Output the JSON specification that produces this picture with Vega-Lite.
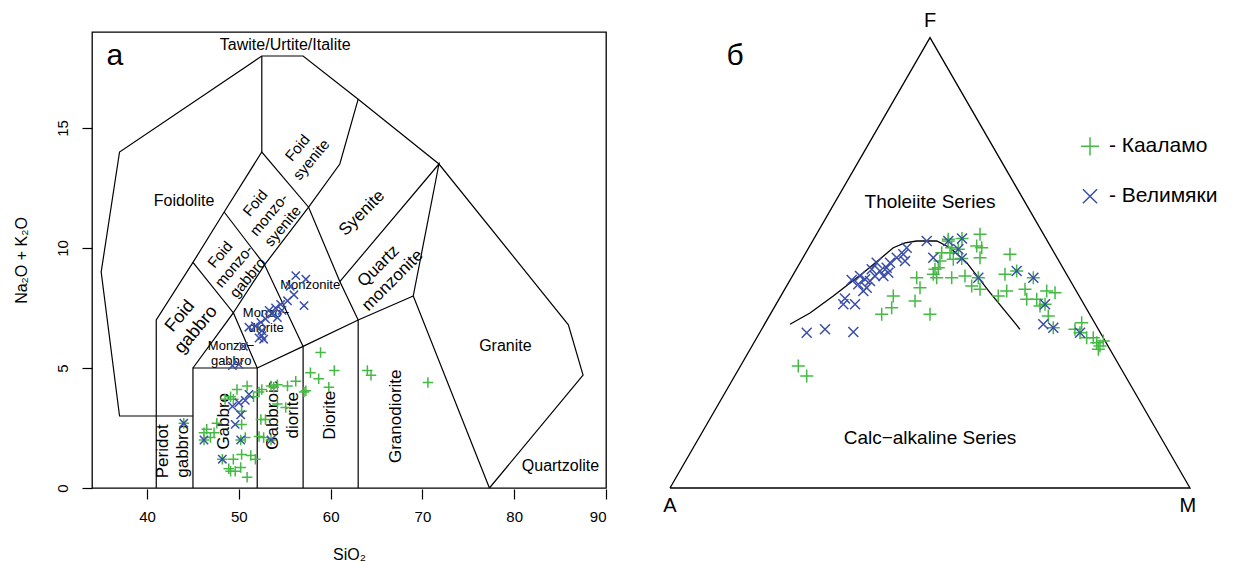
{
"$schema": "https://vega.github.io/schema/vega-lite/v6.json",
"padding": {"left": 12, "top": 11, "right": 0, "bottom": 0},
"spacing": 38,
"bounds": "flush",
"config": {"font": "Liberation Sans", "view": {"stroke": null}, "text": {"font": "Liberation Sans", "color": "#000"}},
"datasets": {
"tas_lines": [
{"seg":"s1","i":1,"SiO2":41,"Na2OK2O":3},{"seg":"s1","i":2,"SiO2":37,"Na2OK2O":3},{"seg":"s1","i":3,"SiO2":35,"Na2OK2O":9},{"seg":"s1","i":4,"SiO2":37,"Na2OK2O":14},{"seg":"s1","i":5,"SiO2":52.5,"Na2OK2O":18},{"seg":"s1","i":6,"SiO2":57,"Na2OK2O":18},{"seg":"s1","i":7,"SiO2":63,"Na2OK2O":16.2},{"seg":"s1","i":8,"SiO2":71.8,"Na2OK2O":13.5},{"seg":"s1","i":9,"SiO2":85.9,"Na2OK2O":6.8},{"seg":"s1","i":10,"SiO2":87.5,"Na2OK2O":4.7},{"seg":"s1","i":11,"SiO2":77.3,"Na2OK2O":0},
{"seg":"s2","i":1,"SiO2":41,"Na2OK2O":0},{"seg":"s2","i":2,"SiO2":41,"Na2OK2O":7},{"seg":"s2","i":3,"SiO2":45,"Na2OK2O":9.4},{"seg":"s2","i":4,"SiO2":48.4,"Na2OK2O":11.5},{"seg":"s2","i":5,"SiO2":52.5,"Na2OK2O":14},{"seg":"s2","i":6,"SiO2":57.6,"Na2OK2O":11.7},{"seg":"s2","i":7,"SiO2":61,"Na2OK2O":8.6},{"seg":"s2","i":8,"SiO2":63,"Na2OK2O":7},
{"seg":"s3","i":1,"SiO2":52.5,"Na2OK2O":18},{"seg":"s3","i":2,"SiO2":52.5,"Na2OK2O":14},
{"seg":"s4","i":1,"SiO2":57.6,"Na2OK2O":11.7},{"seg":"s4","i":2,"SiO2":61,"Na2OK2O":13.5},{"seg":"s4","i":3,"SiO2":63,"Na2OK2O":16.2},
{"seg":"s5","i":1,"SiO2":61,"Na2OK2O":8.6},{"seg":"s5","i":2,"SiO2":71.8,"Na2OK2O":13.5},{"seg":"s5","i":3,"SiO2":69,"Na2OK2O":8},{"seg":"s5","i":4,"SiO2":77.3,"Na2OK2O":0},
{"seg":"s6","i":1,"SiO2":41,"Na2OK2O":3},{"seg":"s6","i":2,"SiO2":45,"Na2OK2O":3},
{"seg":"s7","i":1,"SiO2":45,"Na2OK2O":0},{"seg":"s7","i":2,"SiO2":45,"Na2OK2O":5},{"seg":"s7","i":3,"SiO2":52,"Na2OK2O":5},{"seg":"s7","i":4,"SiO2":52,"Na2OK2O":0},
{"seg":"s8","i":1,"SiO2":45,"Na2OK2O":5},{"seg":"s8","i":2,"SiO2":49.4,"Na2OK2O":7.3},{"seg":"s8","i":3,"SiO2":52,"Na2OK2O":5},
{"seg":"s9","i":1,"SiO2":45,"Na2OK2O":9.4},{"seg":"s9","i":2,"SiO2":49.4,"Na2OK2O":7.3},{"seg":"s9","i":3,"SiO2":52.8,"Na2OK2O":9.3},{"seg":"s9","i":4,"SiO2":57.6,"Na2OK2O":11.7},
{"seg":"s10","i":1,"SiO2":48.4,"Na2OK2O":11.5},{"seg":"s10","i":2,"SiO2":52.8,"Na2OK2O":9.3},{"seg":"s10","i":3,"SiO2":57,"Na2OK2O":5.9},
{"seg":"s11","i":1,"SiO2":52,"Na2OK2O":5},{"seg":"s11","i":2,"SiO2":57,"Na2OK2O":5.9},{"seg":"s11","i":3,"SiO2":63,"Na2OK2O":7},{"seg":"s11","i":4,"SiO2":69,"Na2OK2O":8},
{"seg":"s12","i":1,"SiO2":57,"Na2OK2O":0},{"seg":"s12","i":2,"SiO2":57,"Na2OK2O":5.9},
{"seg":"s13","i":1,"SiO2":63,"Na2OK2O":0},{"seg":"s13","i":2,"SiO2":63,"Na2OK2O":7}
],
"tas_points": [
{"series":"Кааламо","SiO2":44.0,"Na2OK2O":2.7},{"series":"Кааламо","SiO2":46.2,"Na2OK2O":2.0},{"series":"Кааламо","SiO2":48.2,"Na2OK2O":1.2},{"series":"Кааламо","SiO2":50.2,"Na2OK2O":2.0},{"series":"Кааламо","SiO2":53.5,"Na2OK2O":2.0},
{"series":"Кааламо","SiO2":50.9,"Na2OK2O":4.25},{"series":"Кааламо","SiO2":49.8,"Na2OK2O":4.1},{"series":"Кааламо","SiO2":49.1,"Na2OK2O":3.8},{"series":"Кааламо","SiO2":48.5,"Na2OK2O":3.7},{"series":"Кааламо","SiO2":49.4,"Na2OK2O":3.7},{"series":"Кааламо","SiO2":51.6,"Na2OK2O":3.8},{"series":"Кааламо","SiO2":52.2,"Na2OK2O":4.0},{"series":"Кааламо","SiO2":52.5,"Na2OK2O":4.1},{"series":"Кааламо","SiO2":53.5,"Na2OK2O":4.25},{"series":"Кааламо","SiO2":54.2,"Na2OK2O":4.3},{"series":"Кааламо","SiO2":55.3,"Na2OK2O":4.25},{"series":"Кааламо","SiO2":56.2,"Na2OK2O":4.45},{"series":"Кааламо","SiO2":57.1,"Na2OK2O":4.0},{"series":"Кааламо","SiO2":53.8,"Na2OK2O":4.2},{"series":"Кааламо","SiO2":54.2,"Na2OK2O":3.5},{"series":"Кааламо","SiO2":55.1,"Na2OK2O":3.35},{"series":"Кааламо","SiO2":52.4,"Na2OK2O":2.85},{"series":"Кааламо","SiO2":52.9,"Na2OK2O":2.85},{"series":"Кааламо","SiO2":50.3,"Na2OK2O":3.2},{"series":"Кааламо","SiO2":50.3,"Na2OK2O":2.65},{"series":"Кааламо","SiO2":47.6,"Na2OK2O":2.7},{"series":"Кааламо","SiO2":46.5,"Na2OK2O":2.45},{"series":"Кааламо","SiO2":46.2,"Na2OK2O":2.3},{"series":"Кааламо","SiO2":47.3,"Na2OK2O":2.3},{"series":"Кааламо","SiO2":46.9,"Na2OK2O":2.1},{"series":"Кааламо","SiO2":50.7,"Na2OK2O":2.1},{"series":"Кааламо","SiO2":52.2,"Na2OK2O":2.15},{"series":"Кааламо","SiO2":52.7,"Na2OK2O":2.1},{"series":"Кааламо","SiO2":50.3,"Na2OK2O":1.4},{"series":"Кааламо","SiO2":51.3,"Na2OK2O":1.35},{"series":"Кааламо","SiO2":49.4,"Na2OK2O":1.2},{"series":"Кааламо","SiO2":51.8,"Na2OK2O":1.2},{"series":"Кааламо","SiO2":48.9,"Na2OK2O":0.8},{"series":"Кааламо","SiO2":49.6,"Na2OK2O":0.7},{"series":"Кааламо","SiO2":50.2,"Na2OK2O":0.85},{"series":"Кааламо","SiO2":49.1,"Na2OK2O":0.7},{"series":"Кааламо","SiO2":50.9,"Na2OK2O":0.45},{"series":"Кааламо","SiO2":58.9,"Na2OK2O":5.65},{"series":"Кааламо","SiO2":60.4,"Na2OK2O":4.9},{"series":"Кааламо","SiO2":57.8,"Na2OK2O":4.8},{"series":"Кааламо","SiO2":58.7,"Na2OK2O":4.55},{"series":"Кааламо","SiO2":57.3,"Na2OK2O":4.05},{"series":"Кааламо","SiO2":59.8,"Na2OK2O":4.2},{"series":"Кааламо","SiO2":64.0,"Na2OK2O":4.9},{"series":"Кааламо","SiO2":64.4,"Na2OK2O":4.7},{"series":"Кааламо","SiO2":70.6,"Na2OK2O":4.4},
{"series":"Велимяки","SiO2":44.0,"Na2OK2O":2.7},{"series":"Велимяки","SiO2":46.2,"Na2OK2O":2.0},{"series":"Велимяки","SiO2":48.2,"Na2OK2O":1.2},{"series":"Велимяки","SiO2":50.2,"Na2OK2O":2.0},{"series":"Велимяки","SiO2":53.5,"Na2OK2O":2.0},{"series":"Велимяки","SiO2":49.6,"Na2OK2O":2.65},{"series":"Велимяки","SiO2":50.2,"Na2OK2O":3.05},{"series":"Велимяки","SiO2":49.3,"Na2OK2O":3.4},{"series":"Велимяки","SiO2":50.0,"Na2OK2O":3.55},{"series":"Велимяки","SiO2":50.7,"Na2OK2O":3.65},{"series":"Велимяки","SiO2":51.1,"Na2OK2O":3.9},{"series":"Велимяки","SiO2":56.2,"Na2OK2O":8.85},{"series":"Велимяки","SiO2":57.3,"Na2OK2O":8.7},{"series":"Велимяки","SiO2":55.6,"Na2OK2O":8.4},{"series":"Велимяки","SiO2":56.0,"Na2OK2O":8.05},{"series":"Велимяки","SiO2":55.3,"Na2OK2O":7.8},{"series":"Велимяки","SiO2":57.1,"Na2OK2O":7.6},{"series":"Велимяки","SiO2":54.55,"Na2OK2O":7.65},{"series":"Велимяки","SiO2":54.0,"Na2OK2O":7.5},{"series":"Велимяки","SiO2":54.7,"Na2OK2O":7.4},{"series":"Велимяки","SiO2":53.6,"Na2OK2O":7.25},{"series":"Велимяки","SiO2":53.3,"Na2OK2O":7.4},{"series":"Велимяки","SiO2":54.2,"Na2OK2O":7.1},{"series":"Велимяки","SiO2":52.9,"Na2OK2O":7.05},{"series":"Велимяки","SiO2":52.4,"Na2OK2O":6.9},{"series":"Велимяки","SiO2":51.8,"Na2OK2O":6.75},{"series":"Велимяки","SiO2":51.1,"Na2OK2O":6.7},{"series":"Велимяки","SiO2":52.5,"Na2OK2O":6.55},{"series":"Велимяки","SiO2":52.5,"Na2OK2O":6.35},{"series":"Велимяки","SiO2":52.7,"Na2OK2O":6.2},{"series":"Велимяки","SiO2":52.2,"Na2OK2O":6.25},{"series":"Велимяки","SiO2":50.5,"Na2OK2O":5.9},{"series":"Велимяки","SiO2":50.0,"Na2OK2O":5.15},{"series":"Велимяки","SiO2":49.3,"Na2OK2O":5.1}
],
"tas_labels_h": [
{"label":"Tawite/Urtite/Italite","SiO2":55.05,"Na2OK2O":18.45},
{"label":"Foidolite","SiO2":44.03,"Na2OK2O":11.94},
{"label":"Granite","SiO2":79.04,"Na2OK2O":5.9},
{"label":"Quartzolite","SiO2":85.04,"Na2OK2O":0.9}
],
"tas_labels_small": [
{"label":"Monzonite","SiO2":57.77,"Na2OK2O":8.47},
{"label":"Monzo−\ndiorite","SiO2":52.97,"Na2OK2O":7.29},
{"label":"Monzo−\ngabbro","SiO2":49.16,"Na2OK2O":5.9}
],
"tas_labels_v": [
{"label":"Peridot\ngabbro","SiO2":41.78,"Na2OK2O":1.53},
{"label":"Gabbro","SiO2":48.4,"Na2OK2O":2.78},
{"label":"Gabbroic\ndiorite","SiO2":53.74,"Na2OK2O":3.03},
{"label":"Diorite","SiO2":59.95,"Na2OK2O":3.03},
{"label":"Granodiorite","SiO2":67.15,"Na2OK2O":2.99}
],
"tas_labels_d50": [
{"label":"Foid\nsyenite","SiO2":56.39,"Na2OK2O":14.17},
{"label":"Foid\nmonzo-\nsyenite","SiO2":51.78,"Na2OK2O":11.875},
{"label":"Foid\nmonzo-\ngabbro","SiO2":47.96,"Na2OK2O":9.725}
],
"tas_labels_fg": [
{"label":"Foid\ngabbro","SiO2":43.6,"Na2OK2O":7.15}
],
"tas_labels_d45": [
{"label":"Syenite","SiO2":63.41,"Na2OK2O":11.46},
{"label":"Quartz\nmonzonite","SiO2":65.22,"Na2OK2O":9.24}
],
"tas_letter": [{"label":"а","SiO2":36.5,"Na2OK2O":17.99}],
"afm_lines": [
{"seg":"triangle","i":1,"tx":0,"ty":0},{"seg":"triangle","i":2,"tx":100,"ty":0},{"seg":"triangle","i":3,"tx":50,"ty":86.6},{"seg":"triangle","i":4,"tx":0,"ty":0},
{"seg":"boundary","i":1,"tx":23.08,"ty":31.48},{"seg":"boundary","i":2,"tx":26.92,"ty":33.65},{"seg":"boundary","i":3,"tx":31.4,"ty":36.92},{"seg":"boundary","i":4,"tx":37.17,"ty":41.4},{"seg":"boundary","i":5,"tx":40.38,"ty":44.04},{"seg":"boundary","i":6,"tx":42.94,"ty":46.21},{"seg":"boundary","i":7,"tx":45.19,"ty":47.12},{"seg":"boundary","i":8,"tx":47.44,"ty":47.5},{"seg":"boundary","i":9,"tx":51.29,"ty":47.5},{"seg":"boundary","i":10,"tx":53.85,"ty":46.21},{"seg":"boundary","i":11,"tx":57.06,"ty":43.33},{"seg":"boundary","i":12,"tx":61.54,"ty":37.56},{"seg":"boundary","i":13,"tx":67.31,"ty":30.52}
],
"afm_points": [
{"series":"Кааламо","tx":24.67,"ty":23.46},{"series":"Кааламо","tx":26.29,"ty":21.54},{"series":"Кааламо","tx":47.44,"ty":40.44},{"series":"Кааламо","tx":48.08,"ty":38.52},{"series":"Кааламо","tx":42.94,"ty":36.92},{"series":"Кааламо","tx":42.63,"ty":34.67},{"series":"Кааламо","tx":40.71,"ty":33.4},{"series":"Кааламо","tx":47.12,"ty":35.96},{"series":"Кааламо","tx":50.0,"ty":33.4},{"series":"Кааламо","tx":50.96,"ty":42.06},{"series":"Кааламо","tx":51.29,"ty":40.44},{"series":"Кааламо","tx":51.92,"ty":43.65},{"series":"Кааламо","tx":52.25,"ty":45.25},{"series":"Кааламо","tx":54.17,"ty":40.44},{"series":"Кааламо","tx":53.85,"ty":45.25},{"series":"Кааламо","tx":54.48,"ty":43.98},{"series":"Кааламо","tx":53.52,"ty":47.83},{"series":"Кааламо","tx":59.62,"ty":48.79},{"series":"Кааламо","tx":59.62,"ty":44.29},{"series":"Кааламо","tx":58.98,"ty":46.54},{"series":"Кааламо","tx":51.6,"ty":42.37},{"series":"Кааламо","tx":50.63,"ty":41.1},{"series":"Кааламо","tx":56.73,"ty":40.77},{"series":"Кааламо","tx":58.02,"ty":38.85},{"series":"Кааламо","tx":59.62,"ty":38.21},{"series":"Кааламо","tx":59.94,"ty":46.21},{"series":"Кааламо","tx":54.17,"ty":46.21},{"series":"Кааламо","tx":65.38,"ty":44.94},{"series":"Кааламо","tx":64.42,"ty":41.1},{"series":"Кааламо","tx":64.75,"ty":37.88},{"series":"Кааламо","tx":63.13,"ty":36.92},{"series":"Кааламо","tx":68.27,"ty":38.21},{"series":"Кааламо","tx":68.6,"ty":36.29},{"series":"Кааламо","tx":70.52,"ty":36.29},{"series":"Кааламо","tx":72.44,"ty":37.88},{"series":"Кааламо","tx":74.04,"ty":37.56},{"series":"Кааламо","tx":71.15,"ty":35.0},{"series":"Кааламо","tx":72.75,"ty":33.08},{"series":"Кааламо","tx":79.17,"ty":31.79},{"series":"Кааламо","tx":77.88,"ty":30.52},{"series":"Кааламо","tx":80.13,"ty":28.9},{"series":"Кааламо","tx":81.4,"ty":28.9},{"series":"Кааламо","tx":82.06,"ty":27.94},{"series":"Кааламо","tx":82.69,"ty":27.31},{"series":"Кааламо","tx":83.33,"ty":28.27},{"series":"Кааламо","tx":82.37,"ty":26.67},{"series":"Кааламо","tx":66.67,"ty":41.73},{"series":"Кааламо","tx":69.87,"ty":40.44},{"series":"Кааламо","tx":72.12,"ty":35.33},{"series":"Кааламо","tx":73.71,"ty":30.83},{"series":"Кааламо","tx":78.85,"ty":29.87},{"series":"Кааламо","tx":59.29,"ty":40.44},{"series":"Кааламо","tx":56.15,"ty":47.98},{"series":"Кааламо","tx":55.44,"ty":45.9},{"series":"Кааламо","tx":56.1,"ty":44.13},{"series":"Кааламо","tx":53.52,"ty":47.5},
{"series":"Велимяки","tx":26.29,"ty":29.87},{"series":"Велимяки","tx":29.81,"ty":30.52},{"series":"Велимяки","tx":35.25,"ty":30.0},{"series":"Велимяки","tx":33.65,"ty":36.44},{"series":"Велимяки","tx":35.58,"ty":35.33},{"series":"Велимяки","tx":33.33,"ty":35.33},{"series":"Велимяки","tx":34.94,"ty":40.0},{"series":"Велимяки","tx":36.54,"ty":40.77},{"series":"Велимяки","tx":37.5,"ty":40.13},{"series":"Велимяки","tx":36.21,"ty":39.17},{"series":"Велимяки","tx":37.83,"ty":38.52},{"series":"Велимяки","tx":37.17,"ty":37.88},{"series":"Велимяки","tx":38.46,"ty":39.81},{"series":"Велимяки","tx":39.42,"ty":40.77},{"series":"Велимяки","tx":39.75,"ty":43.33},{"series":"Велимяки","tx":38.79,"ty":42.06},{"series":"Велимяки","tx":40.38,"ty":41.73},{"series":"Велимяки","tx":41.02,"ty":40.77},{"series":"Велимяки","tx":41.98,"ty":41.4},{"series":"Велимяки","tx":41.67,"ty":42.37},{"series":"Велимяки","tx":42.31,"ty":43.33},{"series":"Велимяки","tx":43.6,"ty":44.29},{"series":"Велимяки","tx":44.87,"ty":44.94},{"series":"Велимяки","tx":45.19,"ty":43.65},{"series":"Велимяки","tx":45.52,"ty":46.21},{"series":"Велимяки","tx":49.37,"ty":47.5},{"series":"Велимяки","tx":50.63,"ty":44.29},{"series":"Велимяки","tx":53.52,"ty":47.5},{"series":"Велимяки","tx":56.15,"ty":47.98},{"series":"Велимяки","tx":55.44,"ty":45.9},{"series":"Велимяки","tx":56.1,"ty":44.13},{"series":"Велимяки","tx":59.29,"ty":40.44},{"series":"Велимяки","tx":66.67,"ty":41.73},{"series":"Велимяки","tx":69.87,"ty":40.44},{"series":"Велимяки","tx":72.12,"ty":35.33},{"series":"Велимяки","tx":71.79,"ty":31.48},{"series":"Велимяки","tx":73.71,"ty":30.83},{"series":"Велимяки","tx":78.85,"ty":29.87}
],
"afm_labels": [
{"label":"Tholeiite Series","tx":50,"ty":55.0},
{"label":"Calc−alkaline Series","tx":50,"ty":9.6}
],
"afm_vertices": [
{"label":"A","tx":0,"ty":-3.5},
{"label":"M","tx":99.6,"ty":-3.5},
{"label":"F","tx":50,"ty":89.75}
],
"afm_letter": [{"label":"б","tx":12.5,"ty":83.0}],
"legend": [
{"series":"Кааламо","label":"- Кааламо","tx":80.77,"ty":65.7,"ltx":84.4},
{"series":"Велимяки","label":"- Велимяки","tx":80.77,"ty":56.1,"ltx":84.4}
]
},
"hconcat": [
{
"width": 514, "height": 456,
"view": {"stroke": "#000", "strokeWidth": 1.3},
"encoding": {
"x": {"field": "SiO2", "type": "quantitative", "scale": {"domain": [34, 90], "nice": false, "zero": false},
 "axis": {"title": "SiO₂", "values": [40, 50, 60, 70, 80, 90], "grid": false, "domain": false, "ticks": true, "tickSize": 10, "tickColor": "#000", "tickWidth": 1.2, "offset": 1, "labelFontSize": 15, "labelColor": "#000", "labelPadding": 10, "labelFont": "Liberation Sans", "titleFont": "Liberation Sans", "titleFontSize": 16, "titleFontWeight": "normal", "titleColor": "#000", "titlePadding": 22}},
"y": {"field": "Na2OK2O", "type": "quantitative", "scale": {"domain": [0, 19], "nice": false, "zero": false},
 "axis": {"title": "Na₂O + K₂O", "values": [0, 5, 10, 15], "grid": false, "domain": false, "ticks": true, "tickSize": 10, "tickColor": "#000", "tickWidth": 1.2, "labelAngle": 270, "labelAlign": "center", "labelBaseline": "bottom", "labelFontSize": 15, "labelColor": "#000", "labelPadding": 12, "labelFont": "Liberation Sans", "titleFont": "Liberation Sans", "titleFontSize": 16, "titleFontWeight": "normal", "titleColor": "#000", "titlePadding": 26}}
},
"layer": [
{"data": {"name": "tas_lines"}, "mark": {"type": "line", "color": "#000", "strokeWidth": 1.2}, "encoding": {"detail": {"field": "seg"}, "order": {"field": "i", "type": "quantitative"}}},
{"data": {"name": "tas_labels_h"}, "mark": {"type": "text", "fontSize": 16, "align": "center", "baseline": "middle"}, "encoding": {"text": {"field": "label"}}},
{"data": {"name": "tas_labels_small"}, "mark": {"type": "text", "fontSize": 13, "lineHeight": 15, "lineBreak": "\n", "align": "center", "baseline": "middle"}, "encoding": {"text": {"field": "label"}}},
{"data": {"name": "tas_labels_v"}, "mark": {"type": "text", "fontSize": 17, "lineHeight": 20, "lineBreak": "\n", "angle": 270, "align": "center", "baseline": "middle"}, "encoding": {"text": {"field": "label"}}},
{"data": {"name": "tas_labels_d50"}, "mark": {"type": "text", "fontSize": 15, "lineHeight": 18, "lineBreak": "\n", "angle": 310, "align": "center", "baseline": "middle"}, "encoding": {"text": {"field": "label"}}},
{"data": {"name": "tas_labels_fg"}, "mark": {"type": "text", "fontSize": 18, "lineHeight": 21, "lineBreak": "\n", "angle": 310, "align": "center", "baseline": "middle"}, "encoding": {"text": {"field": "label"}}},
{"data": {"name": "tas_labels_d45"}, "mark": {"type": "text", "fontSize": 17, "lineHeight": 20, "lineBreak": "\n", "angle": 315, "align": "center", "baseline": "middle"}, "encoding": {"text": {"field": "label"}}},
{"data": {"name": "tas_letter"}, "mark": {"type": "text", "fontSize": 30, "align": "center", "baseline": "middle"}, "encoding": {"text": {"field": "label"}}},
{"data": {"name": "tas_points"}, "transform": [{"filter": "datum.series === 'Кааламо'"}], "mark": {"type": "point", "shape": "M-1,0L1,0M0,-1L0,1", "filled": false, "color": "#44b944", "strokeWidth": 1.5, "size": 110, "opacity": 1}},
{"data": {"name": "tas_points"}, "transform": [{"filter": "datum.series === 'Велимяки'"}], "mark": {"type": "point", "shape": "M-1,-1L1,1M-1,1L1,-1", "filled": false, "color": "#3a4ea8", "strokeWidth": 1.5, "size": 70, "opacity": 1}}
]
},
{
"width": 598, "height": 456,
"encoding": {
"x": {"field": "tx", "type": "quantitative", "scale": {"domain": [-5, 110], "nice": false, "zero": false}, "axis": null},
"y": {"field": "ty", "type": "quantitative", "scale": {"domain": [0, 87.69], "nice": false, "zero": false}, "axis": null}
},
"layer": [
{"data": {"name": "afm_lines"}, "mark": {"type": "line", "color": "#000", "strokeWidth": 1.3}, "encoding": {"detail": {"field": "seg"}, "order": {"field": "i", "type": "quantitative"}}},
{"data": {"name": "afm_labels"}, "mark": {"type": "text", "fontSize": 19, "align": "center", "baseline": "middle"}, "encoding": {"text": {"field": "label"}}},
{"data": {"name": "afm_vertices"}, "mark": {"type": "text", "fontSize": 20, "align": "center", "baseline": "middle"}, "encoding": {"text": {"field": "label"}}},
{"data": {"name": "afm_letter"}, "mark": {"type": "text", "fontSize": 30, "align": "center", "baseline": "middle"}, "encoding": {"text": {"field": "label"}}},
{"data": {"name": "afm_points"}, "transform": [{"filter": "datum.series === 'Кааламо'"}], "mark": {"type": "point", "shape": "M-1,0L1,0M0,-1L0,1", "filled": false, "color": "#44b944", "strokeWidth": 1.5, "size": 170, "opacity": 1}},
{"data": {"name": "afm_points"}, "transform": [{"filter": "datum.series === 'Велимяки'"}], "mark": {"type": "point", "shape": "M-1,-1L1,1M-1,1L1,-1", "filled": false, "color": "#3a4ea8", "strokeWidth": 1.5, "size": 100, "opacity": 1}},
{"data": {"name": "legend"}, "transform": [{"filter": "datum.series === 'Кааламо'"}], "mark": {"type": "point", "shape": "M-1,0L1,0M0,-1L0,1", "filled": false, "color": "#44b944", "strokeWidth": 1.5, "size": 330, "opacity": 1}},
{"data": {"name": "legend"}, "transform": [{"filter": "datum.series === 'Велимяки'"}], "mark": {"type": "point", "shape": "M-1,-1L1,1M-1,1L1,-1", "filled": false, "color": "#3a4ea8", "strokeWidth": 1.5, "size": 200, "opacity": 1}},
{"data": {"name": "legend"}, "mark": {"type": "text", "fontSize": 21, "align": "left", "baseline": "middle"}, "encoding": {"x": {"field": "ltx", "type": "quantitative"}, "text": {"field": "label"}}}
]
}
]
}
